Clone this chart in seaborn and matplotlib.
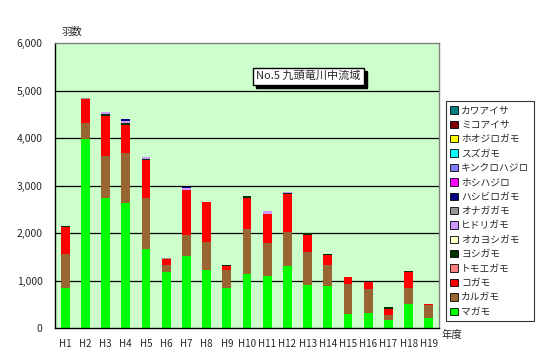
import numpy as np
import pandas as pd
import matplotlib
matplotlib.use("Agg")
import matplotlib.pyplot as plt
from matplotlib.patches import Patch, Rectangle
import seaborn as sns

# ─── DATA ───────────────────────────────────────────────
years = ["H1", "H2", "H3", "H4", "H5", "H6", "H7", "H8", "H9", "H10",
         "H11", "H12", "H13", "H14", "H15", "H16", "H17", "H18", "H19"]

# legend order (top -> bottom); stacking is bottom = last
species = ["カワアイサ", "ミコアイサ", "ホオジロガモ", "スズガモ", "キンクロハジロ",
           "ホシハジロ", "ハシビロガモ", "オナガガモ", "ヒドリガモ", "オカヨシガモ",
           "ヨシガモ", "トモエガモ", "コガモ", "カルガモ", "マガモ"]

colors = ["#008080", "#800000", "#FFFF00", "#00FFFF", "#8080FF",
          "#FF00FF", "#000080", "#969696", "#CC99FF", "#FFFFCC",
          "#003300", "#FF8080", "#FF0000", "#996633", "#00FF00"]

magamo   = [848, 3972, 2744, 2638, 1670, 1186, 1516, 1221, 848, 1144,
            1102, 1312, 905, 891, 302, 316, 176, 512, 218]
karugamo = [710, 344, 884, 1046, 1074, 147, 442, 590, 380, 947,
            695, 716, 702, 442, 631, 512, 105, 337, 273]
kogamo   = [575, 505, 842, 590, 802, 120, 954, 842, 77, 653,
            610, 800, 358, 204, 141, 147, 126, 337, 21]
yoshigamo = [21, 0, 30, 45, 21, 0, 0, 0, 21, 42,
             0, 21, 28, 21, 0, 0, 42, 21, 0]
hidorigamo = [0, 0, 50, 45, 30, 0, 35, 0, 0, 0,
              63, 21, 0, 0, 0, 0, 0, 0, 0]
onagagamo = [0, 27, 0, 0, 0, 21, 0, 0, 0, 0,
             0, 0, 0, 0, 0, 0, 0, 0, 0]
hashibirogamo = [0, 0, 0, 36, 0, 0, 30, 0, 0, 0,
                 0, 0, 0, 0, 0, 0, 0, 0, 0]

counts = {
    "マガモ": magamo,
    "カルガモ": karugamo,
    "コガモ": kogamo,
    "ヨシガモ": yoshigamo,
    "ヒドリガモ": hidorigamo,
    "オナガガモ": onagagamo,
    "ハシビロガモ": hashibirogamo,
}

rows = []
for sp in species:
    vals = counts.get(sp, [0] * len(years))
    for y, v in zip(years, vals):
        rows.append({"year": y, "species": sp, "count": v})
df = pd.DataFrame(rows)

# ─── PLOT ───────────────────────────────────────────────
sns.set_style("white")
plt.rcParams["font.family"] = ["Noto Sans CJK JP", "DejaVu Sans"]
plt.rcParams["font.size"] = 7

fig = plt.figure(figsize=(5.45, 3.6), dpi=100)
ax = fig.add_axes([55 / 545, 1 - 328 / 360, (439 - 55) / 545, (328 - 43) / 360])
ax.set_facecolor("#CCFFCC")

sns.histplot(data=df, x="year", weights="count", hue="species",
             hue_order=species, palette=colors, multiple="stack",
             discrete=True, shrink=0.44, alpha=1, linewidth=0,
             legend=False, ax=ax)

ax.set_ylim(0, 6000)
ax.set_xlim(-0.5, len(years) - 0.5)
ax.set_yticks(np.arange(0, 6001, 1000))
ax.set_yticklabels([f"{v:,}" for v in range(0, 6001, 1000)], fontsize=7.5)
ax.set_xticks(range(len(years)))
ax.set_xticklabels(years, fontsize=7)
ax.set_xticks(np.arange(-0.5, len(years), 1), minor=True)
ax.tick_params(axis="x", which="major", length=0, pad=8)
ax.tick_params(axis="x", which="minor", length=3, direction="out", color="black")
ax.tick_params(axis="y", length=3, direction="out", color="black", pad=6)
ax.set_xlabel("")
ax.set_ylabel("")

for v in range(1000, 6000, 1000):
    ax.axhline(v, color="black", lw=0.9, zorder=0.5)

for s in ["left", "bottom"]:
    ax.spines[s].set_color("black")
    ax.spines[s].set_linewidth(1)
for s in ["top", "right"]:
    ax.spines[s].set_color("#808080")
    ax.spines[s].set_linewidth(1)

# axis labels
fig.text(62 / 545, 1 - 32 / 360, "羽数", fontsize=7.5, va="center", ha="left")
fig.text(441 / 545, 1 - 335 / 360, "年度", fontsize=7.5, va="center", ha="left")

# title box with drop shadow
title = "No.5 九頭竜川中流域"
t = ax.text(0.659, 0.884, title, ha="center", va="center", transform=ax.transAxes,
            fontsize=8, zorder=5,
            bbox=dict(boxstyle="square,pad=0.3", fc="white", ec="black", lw=1))
fig.canvas.draw()
bb = t.get_bbox_patch().get_window_extent()
inv = ax.transAxes.inverted()
(x0, y0), (x1, y1) = inv.transform([(bb.x0 + 3, bb.y0 - 3), (bb.x1 + 3, bb.y1 - 3)])
ax.add_patch(Rectangle((x0, y0), x1 - x0, y1 - y0, transform=ax.transAxes,
                       fc="black", ec="black", zorder=4, clip_on=False))

# legend
handles = [Patch(facecolor=c, edgecolor="black", linewidth=0.6, label=s)
           for s, c in zip(species, colors)]
leg = fig.legend(handles=handles, loc="upper left",
                 bbox_to_anchor=(446 / 545, 1 - 101 / 360),
                 frameon=True, fancybox=False, fontsize=7,
                 handlelength=0.8, handleheight=0.8, handletextpad=0.3,
                 labelspacing=0.45, borderpad=0.45, borderaxespad=0)
leg.get_frame().set_edgecolor("black")
leg.get_frame().set_linewidth(0.8)

fig.savefig("out.png", dpi=100)
